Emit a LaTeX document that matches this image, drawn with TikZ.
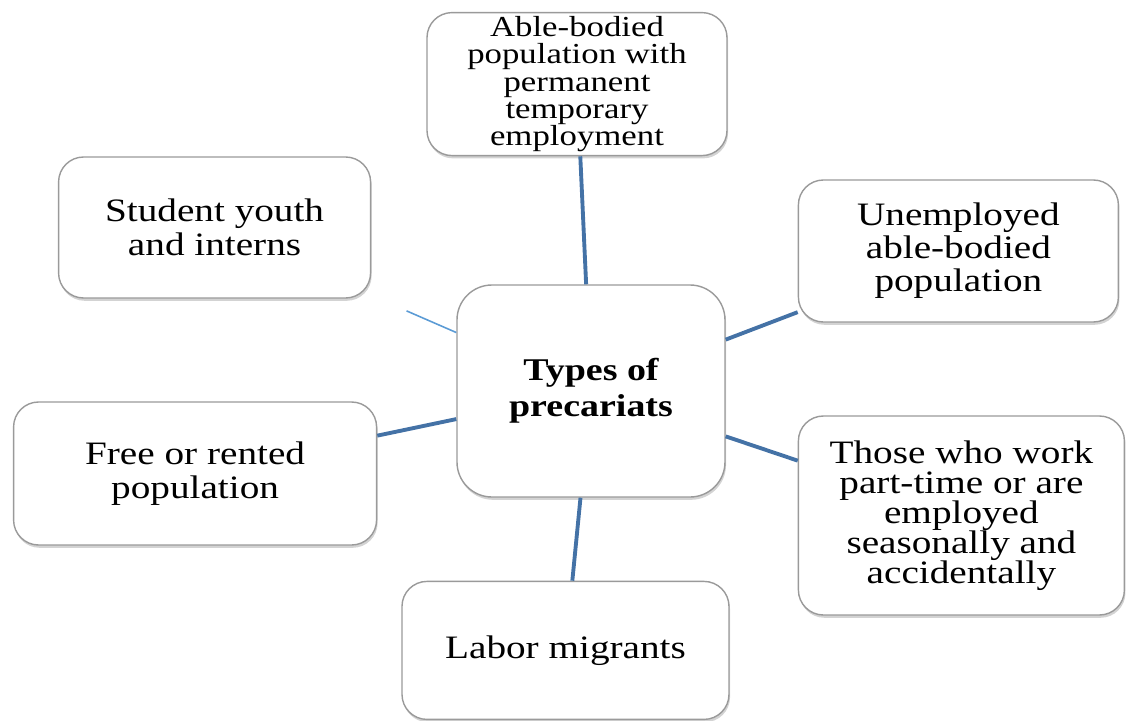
\documentclass[tikz,border=0pt]{standalone}
\usepackage{fontspec}
\setmainfont[FakeStretch=1.2]{Liberation Serif}
\usetikzlibrary{positioning, shadows, calc}

\definecolor{linkblue}{HTML}{4472A6}
\definecolor{faintblue}{HTML}{5B9BD5}
\definecolor{boxgray}{HTML}{9A9A9A}

\begin{document}
\begin{tikzpicture}[
    auto,
    block/.style={draw=boxgray, line width=0.8pt, fill=white, rounded corners=0.5cm,
    align=center, inner sep=2pt, font=\fontsize{18.6}{19}\selectfont,
    drop shadow={shadow xshift=0.6pt, shadow yshift=-1.6pt, opacity=0.35}},
    hub/.style={block, rounded corners=0.7cm, minimum width=5.36cm, minimum height=4.24cm,
    font=\fontsize{18}{20.4}\selectfont\bfseries},
    link/.style={draw=linkblue, line width=2.2pt},
    faint/.style={draw=faintblue, line width=0.9pt}
    ]
    \useasboundingbox (-11.82,7.82) rectangle (10.70,-6.58);

    \node[hub]    (types)                                                {Types of\\precariats};

    \node[block, minimum width=6.0cm, minimum height=2.86cm, font=\fontsize{16.5}{15.5}\selectfont]
                  (ablebodied) [above=2.56cm of types, xshift=-0.28cm]   {Able-bodied\\population with\\permanent\\temporary\\employment};
    \node[block, minimum width=6.24cm, minimum height=2.82cm]
                  (student)    [left=1.70cm of types, yshift=3.27cm]     {Student youth\\and interns};
    \node[block, minimum width=6.40cm, minimum height=2.84cm, font=\fontsize{18.6}{18.7}\selectfont]
                  (unemployed) [right=1.44cm of types, yshift=2.80cm]    {Unemployed\\able-bodied\\population};
    \node[block, minimum width=7.26cm, minimum height=2.86cm]
                  (rented)     [left=1.58cm of types, yshift=-1.65cm]    {Free or rented\\population};
    \node[block, minimum width=6.52cm, minimum height=3.98cm, font=\fontsize{18.6}{17}\selectfont]
                  (parttime)   [right=1.44cm of types, yshift=-2.49cm]   {Those who work\\part-time or are\\employed\\seasonally and\\accidentally};
    \node[block, minimum width=6.54cm, minimum height=2.76cm]
                  (migrants)   [below=1.66cm of types, xshift=-0.51cm]   {Labor migrants};

    \coordinate (stub) at ($(types)!0.49!(student)$);

    \path[link]
      (types)  edge  (ablebodied)
      (types)  edge  (unemployed)
      (types)  edge  (parttime)
      (types)  edge  (migrants)
      (types)  edge  (rented)
    ;
    \path[faint] (types) edge (stub);
  \end{tikzpicture}
\end{document}
